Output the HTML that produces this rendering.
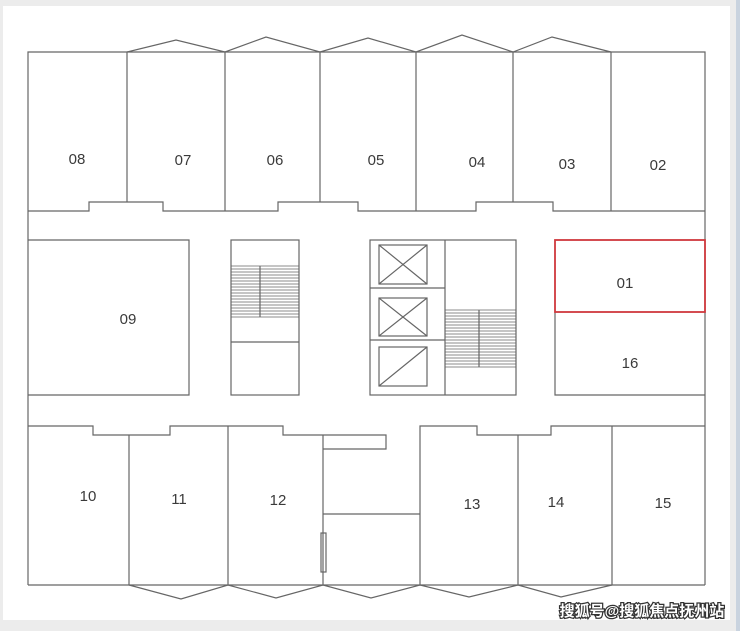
<!DOCTYPE html>
<html><head><meta charset="utf-8"><style>
html,body{margin:0;padding:0;background:#f0f0f0;}
svg{display:block}
text{font-family:"Liberation Sans","Noto Sans CJK SC",sans-serif;font-size:15px;fill:#3a3a3a;text-anchor:middle;dominant-baseline:middle}
</style></head><body>
<svg width="740" height="631" viewBox="0 0 740 631" xmlns="http://www.w3.org/2000/svg">
<rect x="0" y="0" width="740" height="631" fill="#ececec"/>
<rect x="3" y="6" width="727" height="614" fill="#fff"/>
<rect x="736" y="0" width="4" height="631" fill="#c9d3df"/>
<g fill="none" stroke="#666" stroke-width="1.2">
<polyline points="28,585 28,52 705,52 705,585"/>
<polyline points="28,211 89,211 89,202 163,202 163,211 278,211 278,202 358,202 358,211 476,211 476,202 553,202 553,211 705,211"/>
<line x1="127" y1="52" x2="127" y2="202"/>
<line x1="225" y1="52" x2="225" y2="211"/>
<line x1="320" y1="52" x2="320" y2="202"/>
<line x1="416" y1="52" x2="416" y2="211"/>
<line x1="513" y1="52" x2="513" y2="202"/>
<line x1="611" y1="52" x2="611" y2="211"/>
<polyline points="127,52 176,40 225,52 266,37 320,52 368,38 416,52 462,35 513,52 552,37 611,52"/>
<polyline points="28,240 189,240 189,395 28,395"/>
<rect x="231" y="240" width="68" height="155"/>
<line x1="231" y1="342" x2="299" y2="342"/>
<line x1="260" y1="266" x2="260" y2="317"/>
<rect x="370" y="240" width="146" height="155"/>
<line x1="445" y1="240" x2="445" y2="395"/>
<line x1="370" y1="288" x2="445" y2="288"/>
<line x1="370" y1="340" x2="445" y2="340"/>
<rect x="379" y="245" width="48" height="39"/>
<line x1="379" y1="245" x2="427" y2="284"/><line x1="427" y1="245" x2="379" y2="284"/>
<rect x="379" y="298" width="48" height="38"/>
<line x1="379" y1="298" x2="427" y2="336"/><line x1="427" y1="298" x2="379" y2="336"/>
<rect x="379" y="347" width="48" height="39"/>
<line x1="379" y1="386" x2="427" y2="347"/>
<line x1="479" y1="310" x2="479" y2="367"/>
<polyline points="555,312 555,395 705,395"/>
<polyline points="28,426 93,426 93,435 170,435 170,426 283,426 283,435 323,435"/>
<polyline points="420,585 420,426 477,426 477,435 551,435 551,426 705,426"/>
<line x1="129" y1="435" x2="129" y2="585"/>
<line x1="228" y1="426" x2="228" y2="585"/>
<line x1="323" y1="435" x2="323" y2="585"/>
<line x1="518" y1="435" x2="518" y2="585"/>
<line x1="612" y1="426" x2="612" y2="585"/>
<polyline points="323,435 386,435 386,449 323,449"/>
<line x1="323" y1="514" x2="420" y2="514"/>
<rect x="321" y="533" width="5" height="39"/>
<line x1="28" y1="585" x2="705" y2="585"/>
<polyline points="129,585 181,599 228,585 276,598 323,585 371,598 420,585 469,597 518,585 561,597 612,585"/>
</g>
<g stroke="#666" stroke-width="0.8">
<path d="M231 266H299M231 269H299M231 272H299M231 275H299M231 278H299M231 281H299M231 284H299M231 287H299M231 290H299M231 293H299M231 296H299M231 299H299M231 302H299M231 305H299M231 308H299M231 311H299M231 314H299M231 317H299"/>
<path d="M445 310H516M445 313H516M445 316H516M445 319H516M445 322H516M445 325H516M445 328H516M445 331H516M445 334H516M445 337H516M445 340H516M445 343H516M445 346H516M445 349H516M445 352H516M445 355H516M445 358H516M445 361H516M445 364H516M445 367H516"/>
</g>
<rect x="555" y="240" width="150" height="72" fill="none" stroke="#d0393e" stroke-width="1.8"/>
<text x="77" y="160">08</text><text x="183" y="161">07</text><text x="275" y="161">06</text>
<text x="376" y="161">05</text><text x="477" y="163">04</text><text x="567" y="165">03</text>
<text x="658" y="166">02</text><text x="128" y="320">09</text><text x="625" y="284">01</text>
<text x="630" y="364">16</text><text x="88" y="497">10</text><text x="179" y="500">11</text>
<text x="278" y="501">12</text><text x="472" y="505">13</text><text x="556" y="503">14</text>
<text x="663" y="504">15</text>
<text x="642" y="612" style="font-size:15px;font-weight:bold;fill:#fff;stroke:#333;stroke-width:2.5px;paint-order:stroke">搜狐号@搜狐焦点抚州站</text>
</svg>
</body></html>
